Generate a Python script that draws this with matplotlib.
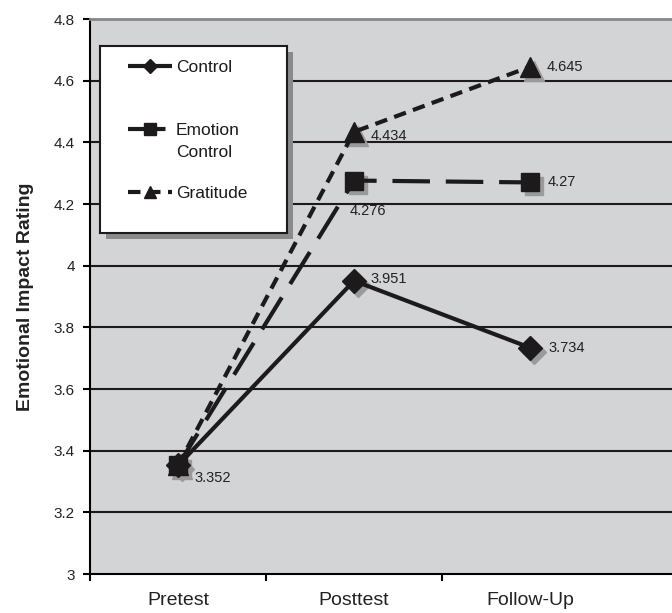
import matplotlib
matplotlib.use('Agg')
import matplotlib.pyplot as plt
from matplotlib import transforms
import numpy as np

plt.rcParams['font.family'] = ['Liberation Sans', 'DejaVu Sans']

categories = ['Pretest', 'Posttest', 'Follow-Up']
control = [3.352, 3.951, 3.734]
emotion_control = [3.352, 4.276, 4.27]
gratitude = [3.352, 4.434, 4.645]
series_names = ['Control', 'Emotion\nControl', 'Gratitude']

W, H = 672, 613
fig = plt.figure(figsize=(W / 100, H / 100), dpi=100)
ax = fig.add_axes([90 / W, 1 - 574 / H, 1 - 90 / W + 0.01, (574 - 19) / H])
ax.set_facecolor('#d3d4d6')

x = np.arange(len(categories))
shadow = transforms.offset_copy(ax.transData, fig=fig, x=4, y=-4, units='dots')

ink = '#1c1a1b'
styles = [
    (control, 'D', 12, (0, ())),
    (emotion_control, 's', 12.5, (0, (9, 3.8))),
    (gratitude, '^', 14, (0, (3, 1.8))),
]
for vals, mk, ms, ls in styles:
    ax.plot(x, vals, linestyle='none', marker=mk, markersize=ms, color='#9a9a9a',
            transform=shadow, zorder=3)
for vals, mk, ms, ls in styles:
    ax.plot(x, vals, linestyle=ls, linewidth=3, marker=mk, markersize=ms,
            color=ink, zorder=4)

# data labels
lab_kw = dict(fontsize=10.5, color='#222222', va='center', textcoords='offset points', zorder=5)
ax.annotate('%g' % control[0], (x[0], control[0]), xytext=(12, -9), **lab_kw)
ax.annotate('%g' % control[1], (x[1], control[1]), xytext=(12, 1), **lab_kw)
ax.annotate('%g' % control[2], (x[2], control[2]), xytext=(13, 0), **lab_kw)
ax.annotate('%g' % emotion_control[1], (x[1], emotion_control[1]), xytext=(-3, -22), **lab_kw)
ax.annotate('%g' % emotion_control[2], (x[2], emotion_control[2]), xytext=(13, 0), **lab_kw)
ax.annotate('%g' % gratitude[1], (x[1], gratitude[1]), xytext=(12, -3), **lab_kw)
ax.annotate('%g' % gratitude[2], (x[2], gratitude[2]), xytext=(12, 0), **lab_kw)

ax.set_ylim(3, 4.8)
ax.set_yticks(np.arange(3, 4.81, 0.2))
ax.set_yticklabels(['3', '3.2', '3.4', '3.6', '3.8', '4', '4.2', '4.4', '4.6', '4.8'],
                   fontsize=11, color='#222222')
ax.set_xlim(-0.5, 2.5 + (W - 612) / 174)
ax.set_xticks(x)
ax.set_xticklabels(categories, fontsize=14, color='#222222')
ax.set_xticks([-0.5, 0.5, 1.5], minor=True)
ax.tick_params(axis='x', which='major', length=0, pad=13)
ax.tick_params(axis='x', which='minor', length=5, width=1.5, direction='out')
ax.tick_params(axis='y', length=5, width=1.5, direction='out', pad=6)

for yv in np.arange(3.2, 4.79, 0.2):
    ax.axhline(yv, color=ink, linewidth=1.5, zorder=1)

ax.spines['right'].set_visible(False)
ax.spines['top'].set_color('#888888')
ax.spines['top'].set_linewidth(2)
ax.spines['left'].set_linewidth(1.5)
ax.spines['bottom'].set_linewidth(1.5)

ax.set_ylabel('Emotional Impact Rating', fontsize=14, fontweight='bold', labelpad=14,
              color='#222222')

# legend box with drop shadow, laid out in pixels
lx0, ly0, lw, lh = 100, 46, 187, 187
sh = fig.add_axes([(lx0 + 6) / W, 1 - (ly0 + lh + 6) / H, lw / W, lh / H], zorder=5)
sh.set_facecolor('#8a8a8a')
sh.set_xticks([])
sh.set_yticks([])
for s in sh.spines.values():
    s.set_visible(False)
leg = fig.add_axes([lx0 / W, 1 - (ly0 + lh) / H, lw / W, lh / H], zorder=6)
leg.set_xlim(0, lw)
leg.set_ylim(lh, 0)
leg.set_facecolor('white')
leg.set_xticks([])
leg.set_yticks([])
for s in leg.spines.values():
    s.set_color(ink)
    s.set_linewidth(1.5)

entry_y = [20, 83, 146]
leg_ms = [7, 8, 8.5]
for (vals, mk, ms, ls), name, ey, lms in zip(styles, series_names, entry_y, leg_ms):
    leg.plot([28, 72], [ey, ey], linestyle=ls, linewidth=3, color=ink)
    leg.plot([50], [ey], marker=mk, markersize=lms, color=ink, linestyle='none')
    for k, line in enumerate(name.split('\n')):
        leg.text(76, ey + 6 + 22 * k, line, fontsize=12.5, va='baseline', ha='left',
                 color='#1c1a1b')

fig.savefig('out.png', dpi=100)
